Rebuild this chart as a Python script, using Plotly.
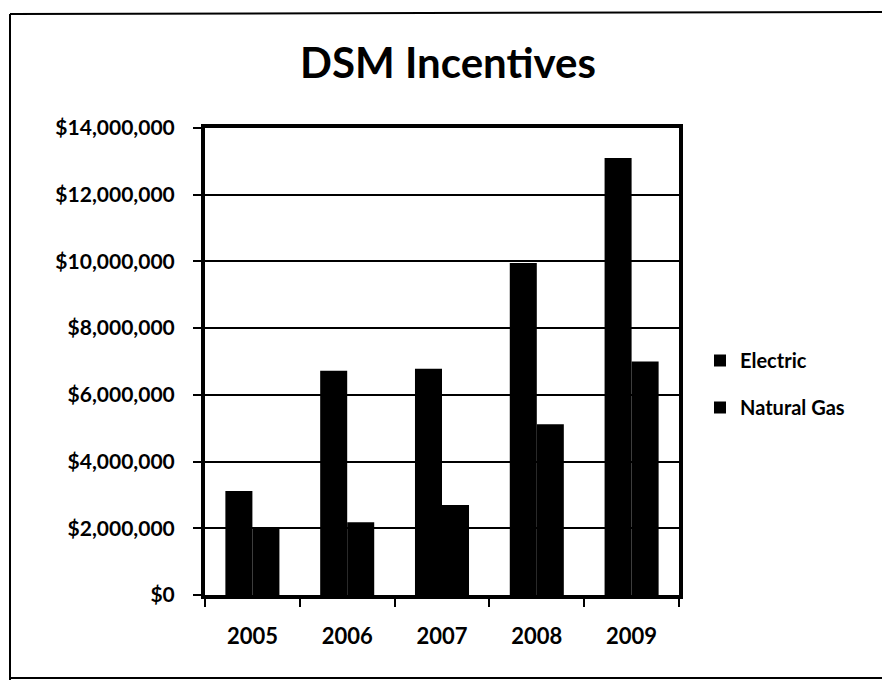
import plotly.graph_objects as go

years = ["2005", "2006", "2007", "2008", "2009"]
electric = [3120000, 6720000, 6780000, 9950000, 13100000]
natural_gas = [2020000, 2180000, 2700000, 5120000, 7000000]
y_ticks = [0, 2000000, 4000000, 6000000, 8000000, 10000000, 12000000, 14000000]
y_tick_text = ["$" + format(v, ",") for v in y_ticks]

FONT = "Lato, 'Open Sans', sans-serif"

fig = go.Figure()
fig.add_trace(go.Bar(x=years, y=electric, name="Electric", legendgroup="e",
                     marker=dict(color="black", line=dict(width=0))))
fig.add_trace(go.Bar(x=years, y=natural_gas, name="Natural Gas", legendgroup="g",
                     marker=dict(color="black", line=dict(width=0))))

L, R, T, B = 205, 679, 128, 595
W, H = 882, 680
pw, ph = R - L, B - T

def px(xp):
    return (xp - L) / pw

def py(yp):
    return (B - yp) / ph

fig.update_layout(
    width=W, height=H,
    margin=dict(l=L, r=W - R, t=T, b=H - B),
    paper_bgcolor="white", plot_bgcolor="white",
    barmode="group", bargap=0.43, bargroupgap=0,
    font=dict(family=FONT, color="black"),
    title=dict(text="<b>DSM Incentives</b>", x=448 / W, xref="container", xanchor="center",
               y=1 - 63 / H, yref="container", yanchor="middle",
               font=dict(size=42, family=FONT, color="black")),
    legend=dict(x=px(700), y=py(384), xanchor="left", yanchor="middle",
                font=dict(size=20, family=FONT, color="black", weight="bold"),
                tracegroupgap=18, traceorder="grouped",
                bgcolor="rgba(0,0,0,0)", borderwidth=0),
    xaxis=dict(type="category", showgrid=False, showline=True, linecolor="black", linewidth=4,
               mirror=True, ticks="outside", tickson="boundaries", ticklen=8, tickwidth=2,
               tickcolor="black", ticklabelstandoff=19,
               tickfont=dict(size=22, family=FONT, color="black", weight="bold")),
    yaxis=dict(range=[0, 14000000], tickmode="array", tickvals=y_ticks, ticktext=y_tick_text,
               showgrid=True, gridcolor="black", gridwidth=1.5, zeroline=False,
               showline=True, linecolor="black", linewidth=4, mirror=True,
               ticks="outside", ticklen=8, tickwidth=2, tickcolor="black",
               ticklabelstandoff=14,
               tickfont=dict(size=21, family=FONT, color="black", weight="bold")),
    showlegend=True,
)

# scanned page frame (left, top and bottom edges)
frame = dict(color="black", width=2)
fig.add_shape(type="line", xref="paper", yref="paper",
              x0=px(10), x1=px(10), y0=py(680), y1=py(14), line=frame, layer="below")
fig.add_shape(type="line", xref="paper", yref="paper",
              x0=px(10), x1=px(882), y0=py(14), y1=py(12), line=frame, layer="below")
fig.add_shape(type="line", xref="paper", yref="paper",
              x0=px(10), x1=px(882), y0=py(678), y1=py(678), line=frame, layer="below")

fig.write_html("out.html")
